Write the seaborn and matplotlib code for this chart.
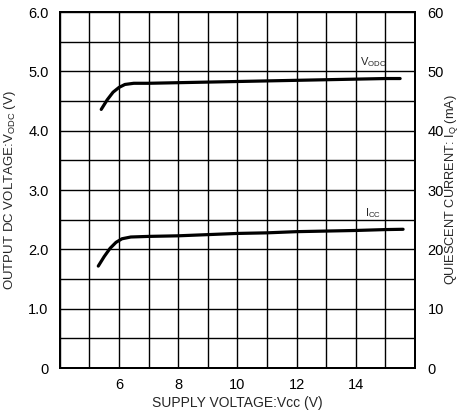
import numpy as np
import pandas as pd
import matplotlib
matplotlib.use('Agg')
import matplotlib.pyplot as plt
import seaborn as sns

# data
vcc_vodc = [5.4, 5.6, 5.8, 6.0, 6.2, 6.5, 7, 8, 9, 10, 11, 12, 13, 14, 15, 15.5]
vodc = [4.36, 4.52, 4.65, 4.73, 4.78, 4.80, 4.80, 4.81, 4.82, 4.83, 4.84, 4.85, 4.86, 4.87, 4.88, 4.88]
vcc_icc = [5.3, 5.5, 5.7, 5.9, 6.1, 6.4, 7, 8, 9, 10, 11, 12, 13, 14, 15, 15.6]
icc = [17.2, 18.8, 20.2, 21.2, 21.8, 22.1, 22.2, 22.3, 22.5, 22.7, 22.8, 23.0, 23.1, 23.2, 23.35, 23.4]

x_ticks = [6, 8, 10, 12, 14]
left_ticks = [0, 1.0, 2.0, 3.0, 4.0, 5.0, 6.0]
left_labels = ['0', '1.0', '2.0', '3.0', '4.0', '5.0', '6.0']
right_ticks = [0, 10, 20, 30, 40, 50, 60]

sns.set_style('white')
plt.rcParams['font.family'] = ['Liberation Sans', 'DejaVu Sans']

df_v = pd.DataFrame({'vcc': vcc_vodc, 'v': vodc})
df_i = pd.DataFrame({'vcc': vcc_icc, 'i': icc})

fig = plt.figure(figsize=(4.6, 4.16), dpi=100)
ax = fig.add_axes([0.130, 0.115, 0.772, 0.856])
ax2 = ax.twinx()

sns.lineplot(data=df_v, x='vcc', y='v', ax=ax, color='black', linewidth=2.3)
sns.lineplot(data=df_i, x='vcc', y='i', ax=ax2, color='black', linewidth=2.3)

ax.set_xlim(4, 16)
ax.set_ylim(0, 6)
ax2.set_ylim(0, 60)

ax.set_xticks(x_ticks)
ax.set_xticks(np.arange(4, 17, 1), minor=True)
ax.set_yticks(left_ticks)
ax.set_yticklabels(left_labels)
ax.set_yticks(np.arange(0, 6.01, 0.5), minor=True)
ax2.set_yticks(right_ticks)

ax.grid(True, which='both', color='black', linewidth=1.0)
ax.set_axisbelow(True)
for a in (ax, ax2):
    a.tick_params(which='both', length=0, labelsize=10.5, colors='black')
    for s in a.spines.values():
        s.set_color('black')
        s.set_linewidth(1.4)
ax.tick_params(axis='y', pad=8)
ax.tick_params(axis='x', pad=7)
ax2.tick_params(axis='y', pad=9)

ax.set_xlabel('SUPPLY VOLTAGE:Vcc (V)', fontsize=10)
ax.xaxis.set_label_coords(0.5, -0.078)
ax.set_ylabel(r'OUTPUT DC VOLTAGE:V$_{\mathregular{ODC}}$ (V)', fontsize=9.5)
ax.yaxis.set_label_coords(-0.118, 0.5)
ax2.set_ylabel(r'QUIESCENT CURRENT: I$_{\mathregular{Q}}$ (mA)', fontsize=9.2)
ax2.yaxis.set_label_coords(1.079, 0.5)

ax.text(14.6, 5.15, r'V$_{\mathregular{ODC}}$', fontsize=8, ha='center', va='center')
ax2.text(14.6, 26.2, r'I$_{\mathregular{CC}}$', fontsize=8, ha='center', va='center')

fig.savefig('out.png', dpi=100)
